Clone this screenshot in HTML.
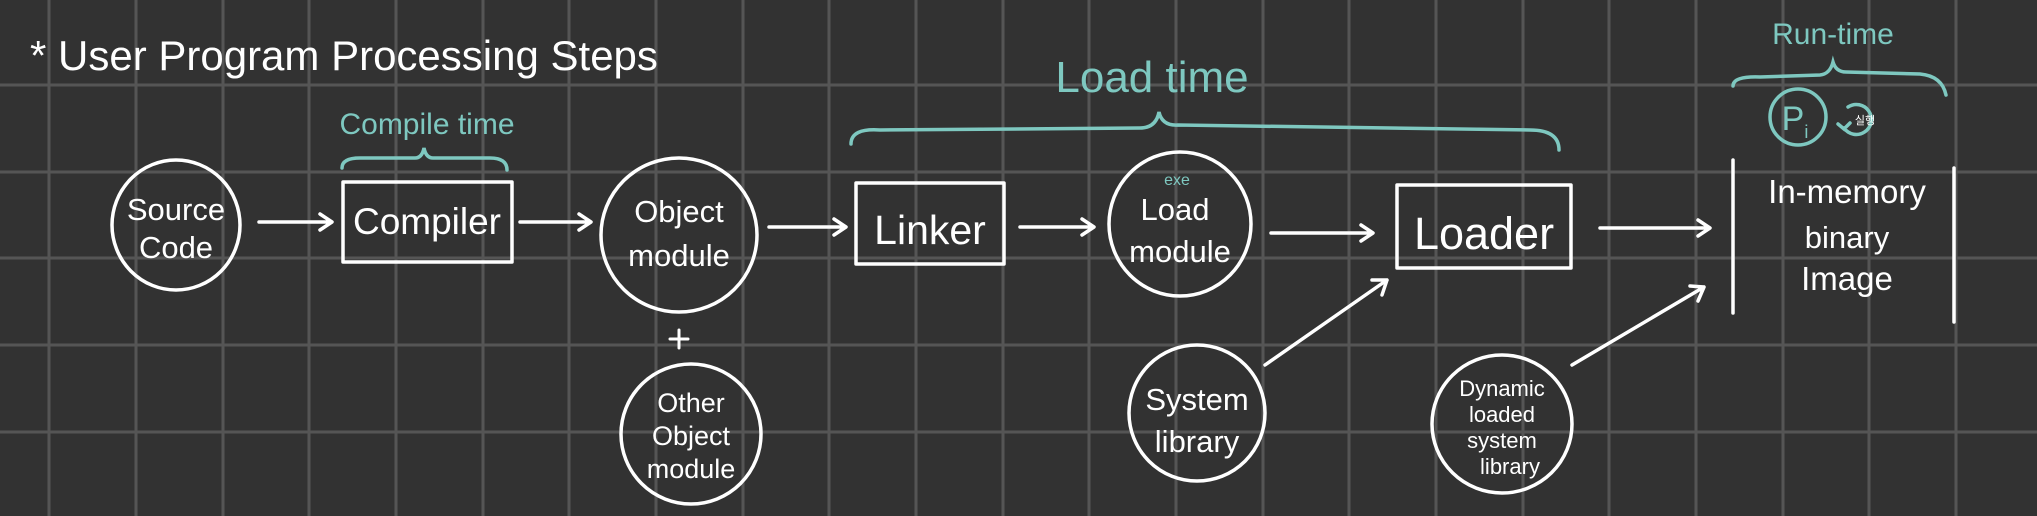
<!DOCTYPE html>
<html><head><meta charset="utf-8"><style>
html,body{margin:0;padding:0;background:#323232;}
svg{display:block}
text{font-family:"Liberation Sans","Noto Sans CJK KR",sans-serif;}
</style></head><body>
<svg width="2037" height="516" viewBox="0 0 2037 516" xmlns="http://www.w3.org/2000/svg">
<rect width="2037" height="516" fill="#323232"/>
<g stroke="#555" stroke-width="3">
<line x1="49" y1="0" x2="49" y2="516"/><line x1="136" y1="0" x2="136" y2="516"/><line x1="223" y1="0" x2="223" y2="516"/><line x1="309" y1="0" x2="309" y2="516"/><line x1="396" y1="0" x2="396" y2="516"/><line x1="483" y1="0" x2="483" y2="516"/><line x1="569" y1="0" x2="569" y2="516"/><line x1="656" y1="0" x2="656" y2="516"/><line x1="743" y1="0" x2="743" y2="516"/><line x1="829" y1="0" x2="829" y2="516"/><line x1="916" y1="0" x2="916" y2="516"/><line x1="1003" y1="0" x2="1003" y2="516"/><line x1="1089" y1="0" x2="1089" y2="516"/><line x1="1176" y1="0" x2="1176" y2="516"/><line x1="1263" y1="0" x2="1263" y2="516"/><line x1="1349" y1="0" x2="1349" y2="516"/><line x1="1436" y1="0" x2="1436" y2="516"/><line x1="1523" y1="0" x2="1523" y2="516"/><line x1="1609" y1="0" x2="1609" y2="516"/><line x1="1696" y1="0" x2="1696" y2="516"/><line x1="1783" y1="0" x2="1783" y2="516"/><line x1="1869" y1="0" x2="1869" y2="516"/><line x1="1956" y1="0" x2="1956" y2="516"/>
<line x1="0" y1="85" x2="2037" y2="85"/><line x1="0" y1="172" x2="2037" y2="172"/><line x1="0" y1="258" x2="2037" y2="258"/><line x1="0" y1="345" x2="2037" y2="345"/><line x1="0" y1="432" x2="2037" y2="432"/>
</g>
<text x="30" y="70" font-size="42" fill="#fff">* User Program Processing Steps</text>
<g fill="none" stroke="#fff" stroke-width="3.5" stroke-linecap="round" stroke-linejoin="round">
<ellipse cx="176" cy="225" rx="64" ry="65"/>
<rect x="343" y="182" width="169" height="80"/>
<ellipse cx="679" cy="235" rx="78" ry="77"/>
<ellipse cx="691" cy="434" rx="70" ry="70"/>
<rect x="856" y="183" width="148" height="81"/>
<ellipse cx="1180" cy="224" rx="71" ry="72"/>
<rect x="1397" y="185" width="174" height="83"/>
<ellipse cx="1197" cy="413" rx="68" ry="68"/>
<ellipse cx="1502" cy="424" rx="70" ry="69"/>
<line x1="1733" y1="160" x2="1733" y2="313"/>
<line x1="1954" y1="168" x2="1954" y2="322"/>
<path d="M259 222H331M320 214L332 222L320 230"/>
<path d="M520 222H590M579 214L591 222L579 230"/>
<path d="M769 227H845M834 219L846 227L834 235"/>
<path d="M1020 227H1093M1082 219L1094 227L1082 235"/>
<path d="M1271 233H1372M1361 225L1373 233L1361 241"/>
<path d="M1600 228H1709M1698 220L1710 228L1698 236"/>
<path d="M1265 365L1387 280M1372 280L1387 280L1382 295"/>
<path d="M1572 365L1704 287M1690 286L1704 287L1698 301"/>
<path d="M679 330V348M670 339H688" stroke-width="3"/>
</g>
<g fill="#fff" text-anchor="middle" font-size="31">
<text x="176" y="220">Source</text><text x="176" y="258">Code</text>
<text x="427" y="234" font-size="37">Compiler</text>
<text x="679" y="222">Object</text><text x="679" y="266">module</text>
<text x="691" y="412" font-size="27">Other</text><text x="691" y="445" font-size="27">Object</text><text x="691" y="478" font-size="27">module</text>
<text x="930" y="244" font-size="41">Linker</text>
<text x="1175" y="220">Load</text><text x="1180" y="262">module</text>
<text x="1484" y="249" font-size="45">Loader</text>
<text x="1197" y="410">System</text><text x="1197" y="452">library</text>
<text x="1502" y="396" font-size="22">Dynamic</text><text x="1502" y="422" font-size="22">loaded</text><text x="1502" y="448" font-size="22">system</text><text x="1510" y="474" font-size="22">library</text>
<text x="1847" y="203" font-size="33">In-memory</text><text x="1847" y="248" font-size="31">binary</text><text x="1847" y="290" font-size="33">Image</text>
</g>
<g fill="#7ec8c0" text-anchor="middle">
<text x="427" y="134" font-size="30">Compile time</text>
<text x="1152" y="92" font-size="44">Load time</text>
<text x="1833" y="44" font-size="30">Run-time</text>
<text x="1177" y="185" font-size="16">exe</text>
<text x="1795" y="130" font-size="34">P<tspan font-size="18" dy="8">i</tspan></text>
</g>
<g fill="none" stroke="#7ec8c0" stroke-width="3.5" stroke-linecap="round">
<path d="M342 168Q342 158 360 158H415Q422 158 424 148Q426 158 433 158H490Q507 158 507 170"/>
<path d="M851 144Q851 128 880 130L1140 128Q1156 128 1159 112Q1162 126 1178 125L1530 130Q1559 130 1559 150"/>
<path d="M1733 86Q1733 76 1760 77L1820 75Q1830 74 1833 62Q1836 72 1846 72L1920 74Q1942 76 1946 95"/>
<circle cx="1798" cy="117" r="28"/>
<path d="M1848 107A15 15 0 1 1 1844 128M1838 124L1844 129L1850 123"/>
</g>
<text x="1865" y="124" fill="#fff" font-size="11" text-anchor="middle">실행</text>
</svg>
</body></html>
